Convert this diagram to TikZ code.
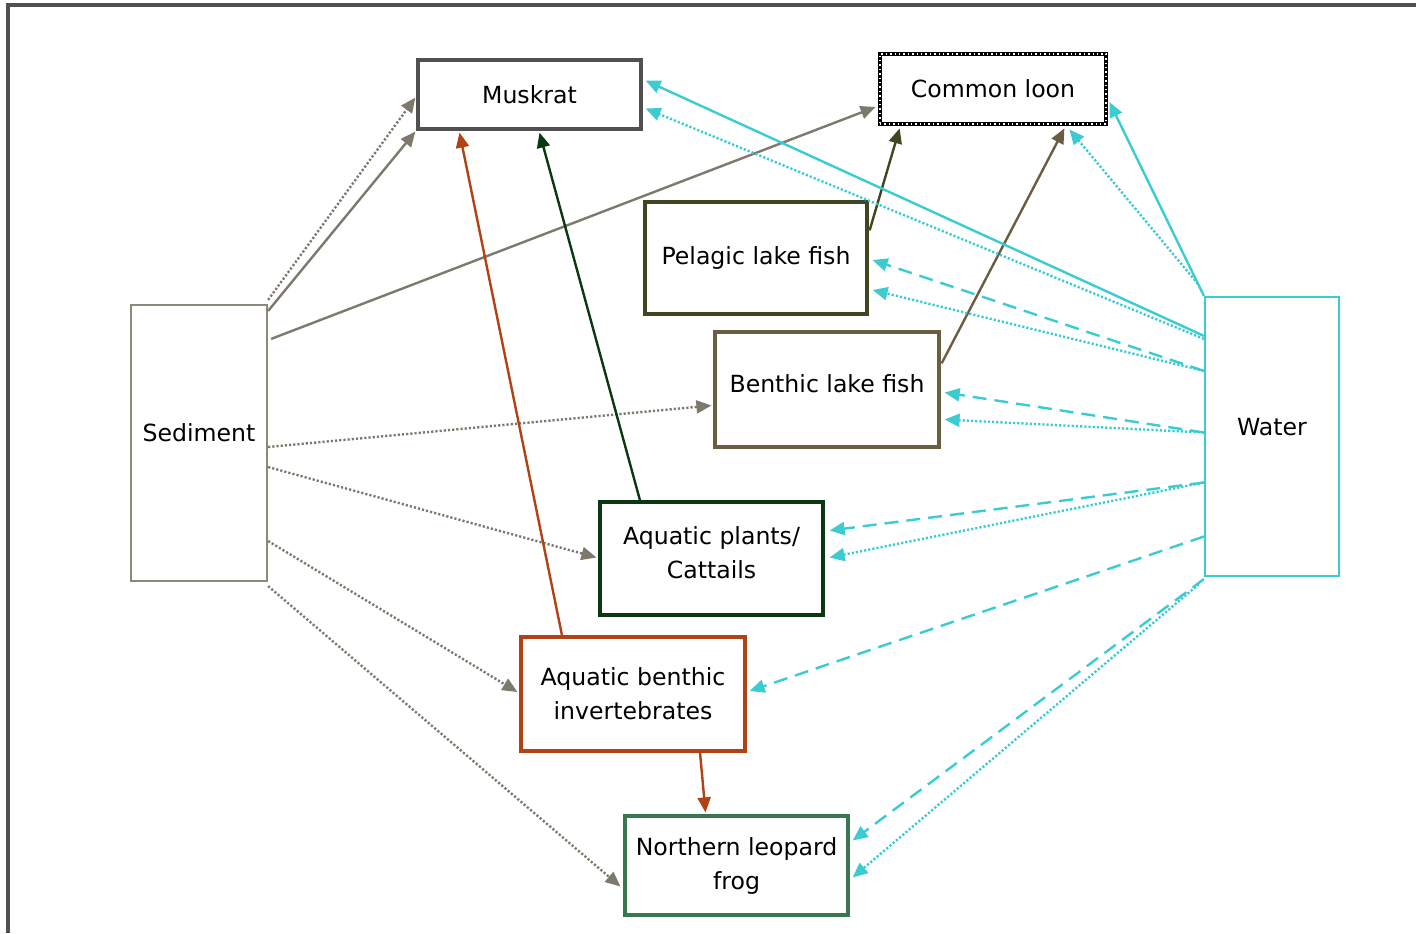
\documentclass[tikz,border=0pt]{standalone}
\usepackage{fontspec}
\setmainfont{DejaVu Sans}
\usetikzlibrary{arrows.meta, calc}

\definecolor{sedgray}{RGB}{140,136,122}
\definecolor{sedarrow}{RGB}{125,121,108}
\definecolor{watercyan}{RGB}{58,204,208}
\definecolor{muskgray}{RGB}{80,80,80}
\definecolor{pelagicol}{RGB}{62,70,34}
\definecolor{benthicol}{RGB}{106,93,66}
\definecolor{plantgreen}{RGB}{12,56,16}
\definecolor{invrust}{RGB}{176,66,22}
\definecolor{froggreen}{RGB}{56,120,80}
\definecolor{framegray}{RGB}{80,80,80}

\tikzset{
	box/.style={draw, rectangle, fill=white, inner sep=0pt, align=center, line width=1.6pt},
	pool/.style={draw, rectangle, fill=white, inner sep=0pt, align=center, line width=1.1pt, text depth=10pt},
	flow/.style={-{Triangle[length=7.5pt, width=6.5pt]}, line width=1.2pt},
	dotline/.style={dash pattern=on 1.1pt off 1pt},
	dashline/.style={dash pattern=on 7pt off 4pt},
}

\begin{document}
\begin{tikzpicture}[x=0.5pt, y=-0.5pt, font=\fontsize{11.8}{17}\selectfont]
	\useasboundingbox (0,0) rectangle (1416,933);
	\draw[framegray, line width=1.8pt] (8,933) -- (8,5) -- (1416,5);
	
	\node[box, draw=muskgray, minimum width=111.5pt, minimum height=34.5pt]		(Musk)		at (529.5,94.5)	{Muskrat};
	\node[box, draw=black, line width=2.4pt, minimum width=113pt, minimum height=35pt,
		postaction={draw=white, line width=0.7pt, dash pattern=on 0.7pt off 1.5pt}]	(Loon)		at (993,89)		{Common loon};
	\node[box, draw=pelagicol, minimum width=111pt, minimum height=56pt]		(Pelagic)	at (756,258)	{Pelagic lake fish};
	\node[box, draw=benthicol, minimum width=112pt, minimum height=57.5pt, text depth=6pt]	(Benthic)	at (827,389.5)	{Benthic lake fish};
	\node[box, draw=plantgreen, minimum width=111.5pt, minimum height=56.5pt, text depth=6pt]	(Plants)	at (711.5,558.5)	{Aquatic plants/\\Cattails};
	\node[box, draw=invrust, minimum width=112pt, minimum height=57pt]			(Invert)	at (633,694)	{Aquatic benthic\\invertebrates};
	\node[box, draw=froggreen, minimum width=111.5pt, minimum height=49.5pt]	(Frog)		at (736.5,865.5)	{Northern leopard\\frog};
	\node[pool, draw=sedgray, minimum width=68pt, minimum height=138pt]			(Sed)		at (199,443)	{Sediment};
	\node[pool, draw=watercyan, minimum width=67pt, minimum height=139.5pt]		(Water)		at (1272,436.5)	{Water};
	
	% sediment
	\draw[flow, sedarrow, dotline] ($(Sed.north east)+(0,-4)$) -- ($(Musk.west)+(-1,3)$);
	\draw[flow, sedarrow] ($(Sed.north east)+(0,7)$) -- ($(Musk.south west)+(-1,1)$);
	\draw[flow, sedarrow] ($(Sed.north east)+(3,35)$) -- ($(Loon.west)+(-2,18)$);
	\draw[flow, sedarrow, dotline] ($(Sed.east)+(0,4)$) -- ($(Benthic.west)+(-2,16)$);
	\draw[flow, sedarrow, dotline] ($(Sed.east)+(0,24)$) -- ($(Plants.west)+(-2,-1)$);
	\draw[flow, sedarrow, dotline] ($(Sed.east)+(0,98)$) -- ($(Invert.west)+(-2,-2)$);
	\draw[flow, sedarrow, dotline] ($(Sed.south east)+(0,4)$) -- ($(Frog.west)+(-3,21)$);
	
	% food web
	\draw[flow, invrust] ($(Invert.north)+(-71,0)$) -- ($(Musk.south)+(-70,2)$);
	\draw[flow, plantgreen] ($(Plants.north)+(-71.5,0)$) -- ($(Musk.south)+(10,2)$);
	\draw[flow, pelagicol] ($(Pelagic.north east)+(1,30)$) -- ($(Loon.south west)+(22,2)$);
	\draw[flow, benthicol] ($(Benthic.north east)+(1,33)$) -- ($(Loon.south east)+(-44,2)$);
	\draw[flow, invrust] ($(Invert.south)+(67,0)$) -- ($(Frog.north)+(-31,-2)$);
	
	% water
	\draw[flow, watercyan] ($(Water.north west)+(0,40)$) -- ($(Musk.east)+(3,-14)$);
	\draw[flow, watercyan, dotline] ($(Water.north west)+(0,43)$) -- ($(Musk.east)+(3,14)$);
	\draw[flow, watercyan] (Water.north west) -- ($(Loon.east)+(1,13)$);
	\draw[flow, watercyan, dotline] ($(Water.north west)+(-6,-12)$) -- ($(Loon.south east)+(-39,3)$);
	\draw[flow, watercyan, dashline] ($(Water.north west)+(0,75)$) -- ($(Pelagic.east)+(4,2)$);
	\draw[flow, watercyan, dotline] ($(Water.north west)+(0,75)$) -- ($(Pelagic.east)+(4,32)$);
	\draw[flow, watercyan, dashline] ($(Water.west)+(0,-4)$) -- ($(Benthic.east)+(4,3)$);
	\draw[flow, watercyan, dotline] ($(Water.west)+(0,-4)$) -- ($(Benthic.east)+(4,30)$);
	\draw[flow, watercyan, dashline] ($(Water.west)+(0,46)$) -- ($(Plants.east)+(5,-28)$);
	\draw[flow, watercyan, dotline] ($(Water.west)+(0,46)$) -- ($(Plants.east)+(5,-1)$);
	\draw[flow, watercyan, dashline] ($(Water.west)+(0,100)$) -- ($(Invert.east)+(3,-3)$);
	\draw[flow, watercyan, dashline] ($(Water.south west)+(0,2)$) -- ($(Frog.east)+(3,-25)$);
	\draw[flow, watercyan, dotline] ($(Water.south west)+(-5,7)$) -- ($(Frog.east)+(3,12)$);
\end{tikzpicture}
\end{document}
